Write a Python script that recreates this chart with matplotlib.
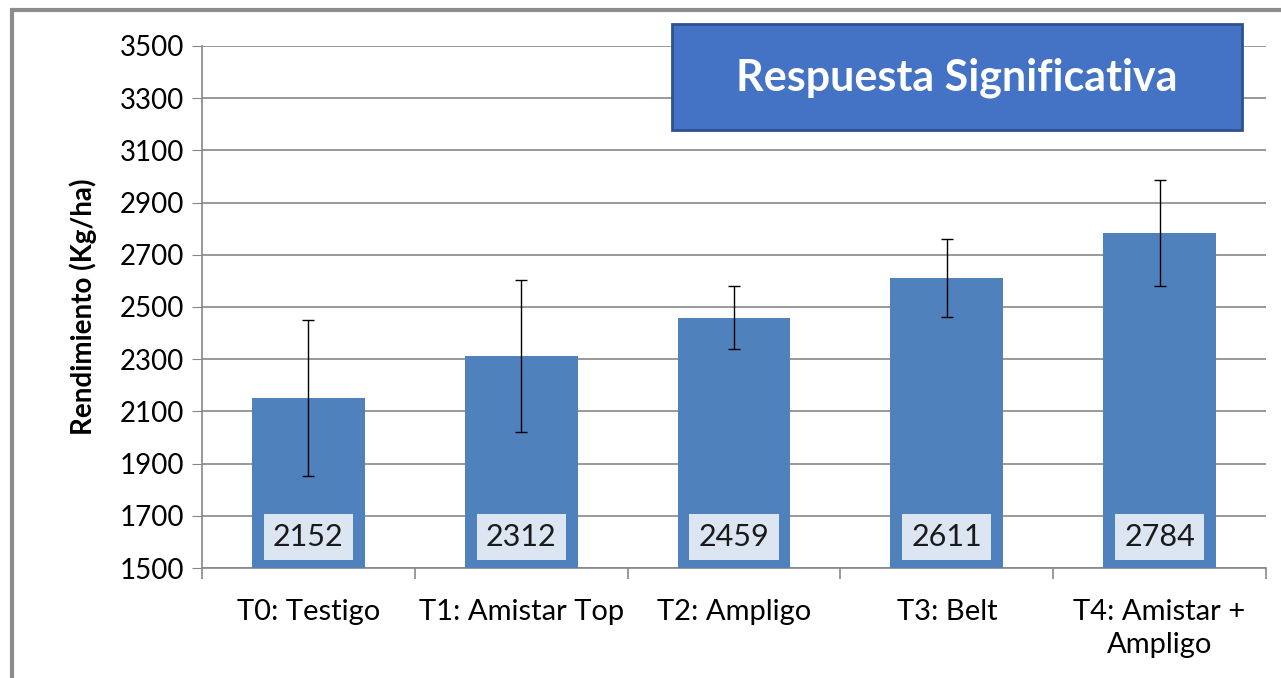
import matplotlib.pyplot as plt
from matplotlib.patches import Rectangle

plt.rcParams['font.family'] = ['Lato', 'DejaVu Sans']

categories = ["T0: Testigo", "T1: Amistar Top", "T2: Ampligo", "T3: Belt", "T4: Amistar +\nAmpligo"]
rendimiento = [2152, 2312, 2459, 2611, 2784]
error = [298, 292, 121, 150, 202]
y_ticks = list(range(1500, 3501, 200))

fig = plt.figure(figsize=(12.81, 6.78), dpi=100)
ax = fig.add_axes([0.1577, 0.1622, 0.8306, 0.7700])

x = list(range(len(categories)))
ax.bar(x, rendimiento, width=0.53, color="#4F81BD", zorder=3,
       yerr=error, error_kw=dict(ecolor="black", elinewidth=1.0, capsize=4.5, capthick=1.0, zorder=4))

ax.set_xlim(-0.5, len(categories) - 0.5)
ax.set_ylim(1500, 3500)
ax.set_yticks(y_ticks)
ax.tick_params(axis="y", labelsize=20, length=7, color="#878787", pad=6, direction="out")
ax.grid(axis="y", color="#878787", linewidth=1.2, zorder=0)

# category labels centred, ticks on boundaries
ax.set_xticks(x)
ax.set_xticklabels(categories, fontsize=21, linespacing=1.35)
ax.tick_params(axis="x", length=0, pad=22)
ax.set_xticks([i - 0.5 for i in range(len(categories) + 1)], minor=True)
ax.tick_params(axis="x", which="minor", length=8, color="#878787", width=1.2)

for s in ["top", "right"]:
    ax.spines[s].set_visible(False)
for s in ["left", "bottom"]:
    ax.spines[s].set_color("#878787")
    ax.spines[s].set_linewidth(1.2)

ax.set_ylabel("Rendimiento (Kg/ha)", fontsize=20, fontweight="bold", labelpad=16)

for xi, v in zip(x, rendimiento):
    ax.text(xi, 1620, str(v), ha="center", va="center", fontsize=22, color="#1a1a1a", zorder=5,
            bbox=dict(boxstyle="square,pad=0.3", facecolor="#DCE6F2", edgecolor="none"))

# title box
fig.patches.append(Rectangle((672 / 1281, 1 - 130 / 678), 570 / 1281, 106 / 678,
                             transform=fig.transFigure, facecolor="#4472C4",
                             edgecolor="#2F528F", linewidth=2, zorder=10))
fig.text((672 + 285) / 1281, 1 - 78 / 678, "Respuesta Significativa", ha="center", va="center",
         color="white", fontsize=31, fontweight="bold", zorder=11)

# outer frame
fig.patches.append(Rectangle((12 / 1281, -0.1), 1.2, 1.1 - 10 / 678, transform=fig.transFigure,
                             facecolor="none", edgecolor="#8c8c8c", linewidth=3, zorder=0))

fig.savefig("out.png", dpi=100)
plt.close(fig)
